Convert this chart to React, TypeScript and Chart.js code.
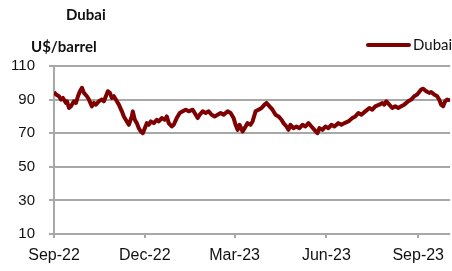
import React, { useEffect, useRef } from "react";
import { Chart, registerables } from "chart.js";

Chart.register(...registerables);

// days since 1 Sep 2022
const days = [
  0, 2, 5, 7, 9, 12, 13, 15, 17, 20, 22, 24, 26, 28, 30, 33, 35, 38, 40, 42,
  45, 48, 50, 52, 54, 56, 58, 60, 63, 65, 68, 70, 73, 75, 78, 79, 81, 83, 85, 87,
  89, 91, 93, 95, 97, 100, 103, 105, 108, 111, 113, 115, 118, 120, 123, 126, 129, 132, 135, 139,
  141, 144, 146, 149, 152, 155, 158, 161, 164, 167, 170, 174, 177, 180, 182, 184, 186, 189, 191, 194,
  197, 199, 202, 205, 208, 211, 213, 216, 219, 222, 225, 228, 230, 233, 235, 237, 240, 243, 246, 249,
  252, 255, 258, 261, 264, 266, 269, 272, 275, 278, 281, 285, 288, 291, 295, 299, 302, 305, 308, 312,
  316, 319, 322, 326, 329, 331, 333, 336, 339, 342, 345, 348, 351, 355, 358, 361, 364, 368, 370, 373,
  376, 378, 381, 384, 386, 388, 390, 392, 394, 397,
];
const prices = [
  94.5, 93, 92, 90, 91, 88, 89, 85, 86, 89, 88, 92, 95, 97, 94, 92, 90, 86, 88, 87,
  89, 90, 89, 92, 95, 94, 91, 92, 89, 87, 83, 80, 77, 75, 80, 83, 78, 76, 73, 71,
  70, 73, 76, 75, 77, 76, 78, 77, 79, 78, 80, 76, 74, 75, 79, 82, 83, 84, 83, 84,
  82, 79, 81, 83, 82, 83, 81, 80, 81, 82, 81, 83, 82, 79, 75, 72, 75, 71, 73, 76,
  75, 77, 83, 84, 85, 87, 88, 86, 84, 81, 80, 78, 76, 74, 72, 75, 73, 74, 73, 75,
  74, 76, 74, 72, 70, 73, 72, 74, 73, 75, 74, 76, 75, 76, 77, 79, 80, 82, 81, 83,
  85, 84, 86, 87, 88, 87, 89, 87, 85, 86, 85, 86, 87, 89, 90, 92, 93, 96, 96.5, 95,
  94, 94.5, 93, 92, 90, 87, 86, 89, 90, 89.5,
];
const tickDays = [0, 91, 181, 273, 365];
const tickLabels = ["Sep-22", "Dec-22", "Mar-23", "Jun-23", "Sep-23"];
const yTicks = [10, 30, 50, 70, 90, 110];

const LINE_COLOR = "#7f0000";
const GRID_COLOR = "#a8a8a8";

const decorPlugin = {
  id: "decor",
  afterDraw(chart: any) {
    const ctx = chart.ctx;
    ctx.save();
    ctx.fillStyle = "#111";
    ctx.textBaseline = "middle";
    ctx.textAlign = "left";
    ctx.font = "bold 15px Lato";
    ctx.fillText("Dubai", 66, 15);
    ctx.fillText("U$/barrel", 31, 47);
    // legend
    ctx.strokeStyle = LINE_COLOR;
    ctx.lineWidth = 4;
    ctx.lineCap = "round";
    ctx.beginPath();
    ctx.moveTo(368, 45);
    ctx.lineTo(409, 45);
    ctx.stroke();
    ctx.font = "15px Lato";
    ctx.fillText("Dubai", 413, 45);
    ctx.restore();
  },
};

export default function App() {
  const ref = useRef<HTMLCanvasElement>(null);
  useEffect(() => {
    if (!ref.current) return;
    const chart = new Chart(ref.current, {
      type: "line",
      data: {
        datasets: [
          {
            label: "Dubai",
            data: days.map((d, i) => ({ x: d, y: prices[i] })),
            borderColor: LINE_COLOR,
            borderWidth: 4,
            pointRadius: 0,
            tension: 0,
            borderJoinStyle: "round",
          },
        ],
      },
      options: {
        responsive: false,
        animation: false,
        layout: { padding: { top: 66, left: 0, right: 0, bottom: 0 } },
        plugins: { legend: { display: false }, title: { display: false }, tooltip: { enabled: false } },
        scales: {
          x: {
            type: "linear",
            min: 0,
            max: 397,
            afterBuildTicks: (s: any) => {
              s.ticks = tickDays.map((v) => ({ value: v }));
            },
            afterFit: (s: any) => {
              s.height = 37;
            },
            ticks: {
              autoSkip: false,
              maxRotation: 0,
              padding: 8,
              color: "#111",
              font: { family: "'Liberation Sans', Arial", size: 16 },
              callback: (v: any) => {
                const i = tickDays.indexOf(Number(v));
                return i >= 0 ? tickLabels[i] : "";
              },
            },
            grid: { drawOnChartArea: false, drawTicks: true, tickLength: 4, color: GRID_COLOR, lineWidth: 2 },
            border: { display: false },
          },
          y: {
            min: 10,
            max: 110,
            afterBuildTicks: (s: any) => {
              s.ticks = yTicks.map((v) => ({ value: v }));
            },
            afterFit: (s: any) => {
              s.width = 54;
            },
            ticks: {
              padding: 14,
              color: "#111",
              font: { family: "'Liberation Sans', Arial", size: 15 },
            },
            grid: { color: GRID_COLOR, lineWidth: 2, tickLength: 5 },
            border: { display: true, color: GRID_COLOR, width: 2 },
          },
        },
      },
      plugins: [decorPlugin],
    } as any);
    return () => chart.destroy();
  }, []);
  return (
    <div style={{ position: "absolute", left: 0, top: 0, width: 452, height: 271, background: "#fff" }}>
      <canvas ref={ref} width={452} height={271} />
    </div>
  );
}
